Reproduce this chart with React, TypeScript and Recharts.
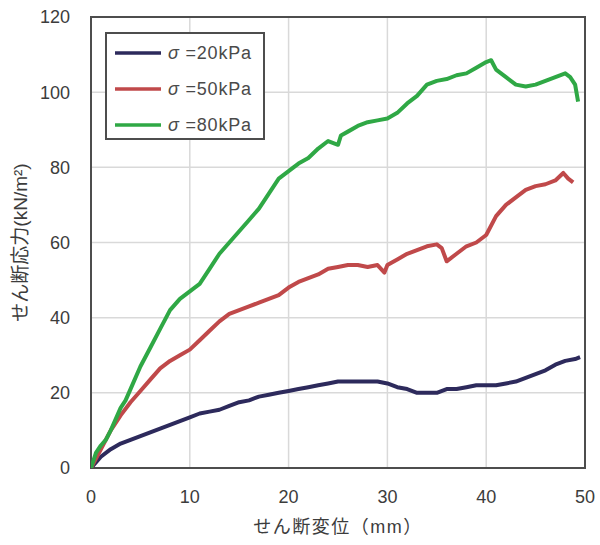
import React from 'react';
import { LineChart, Line, XAxis, YAxis, CartesianGrid, Legend, ReferenceArea } from 'recharts';

// shear displacement (mm) / shear stress (kN/m2)
const disp20 = [0, 1, 2, 3, 4, 5, 6, 7, 8, 9, 10, 11, 12, 13, 14, 15, 16, 17, 18, 19, 20, 21, 22, 23, 24, 25, 26, 27, 28, 29, 30, 31, 32, 33, 34, 35, 36, 37, 38, 39, 40, 41, 42, 43, 44, 45, 46, 47, 48, 49, 49.5];
const stress20 = [0, 3, 5, 6.5, 7.5, 8.5, 9.5, 10.5, 11.5, 12.5, 13.5, 14.5, 15, 15.5, 16.5, 17.5, 18, 19, 19.5, 20, 20.5, 21, 21.5, 22, 22.5, 23, 23, 23, 23, 23, 22.5, 21.5, 21, 20, 20, 20, 21, 21, 21.5, 22, 22, 22, 22.5, 23, 24, 25, 26, 27.5, 28.5, 29, 29.5];

const disp50 = [0, 1, 2, 3, 4, 5, 6, 7, 8, 9, 10, 11, 12, 13, 14, 15, 16, 17, 18, 19, 20, 21, 22, 23, 24, 25, 26, 27, 28, 29, 29.7, 30, 31, 32, 33, 34, 35, 35.5, 36, 37, 38, 39, 40, 41, 42, 43, 44, 45, 46, 47, 47.8, 48.3, 48.8];
const stress50 = [0, 5, 10, 14, 17.5, 20.5, 23.5, 26.5, 28.5, 30, 31.5, 34, 36.5, 39, 41, 42, 43, 44, 45, 46, 48, 49.5, 50.5, 51.5, 53, 53.5, 54, 54, 53.5, 54, 52, 54, 55.5, 57, 58, 59, 59.5, 58.5, 55, 57, 59, 60, 62, 67, 70, 72, 74, 75, 75.5, 76.5, 78.5, 77, 76];

const disp80 = [0, 0.5, 1, 1.5, 2, 2.5, 3, 3.5, 4, 5, 6, 7, 8, 9, 10, 11, 12, 13, 14, 15, 16, 17, 18, 19, 20, 21, 22, 23, 24, 25, 25.3, 26, 27, 28, 29, 30, 31, 32, 33, 34, 35, 36, 37, 38, 39, 40, 40.5, 41, 42, 43, 44, 45, 46, 47, 48, 48.5, 49, 49.3];
const stress80 = [0, 4, 6, 7.5, 10, 13, 16, 18, 21, 27, 32, 37, 42, 45, 47, 49, 53, 57, 60, 63, 66, 69, 73, 77, 79, 81, 82.5, 85, 87, 86, 88.5, 89.5, 91, 92, 92.5, 93, 94.5, 97, 99, 102, 103, 103.5, 104.5, 105, 106.5, 108, 108.5, 106, 104, 102, 101.5, 102, 103, 104, 105, 104, 102, 97.5];

const xTicks = [0, 10, 20, 30, 40, 50];
const yTicks = [0, 20, 40, 60, 80, 100, 120];

const toPoints = (xs: number[], ys: number[]) => xs.map((x, i) => ({ x, y: ys[i] }));

const SERIES = [
  { label: '=20kPa', color: '#2d2a5c', data: toPoints(disp20, stress20) },
  { label: '=50kPa', color: '#c0494a', data: toPoints(disp50, stress50) },
  { label: '=80kPa', color: '#2fa845', data: toPoints(disp80, stress80) },
];

const FONT = "'Liberation Sans', 'Noto Sans CJK JP', sans-serif";
const TEXT = '#3c3c3c';

const renderLegend = () => (
  <div style={{ width: 160, height: 108, border: '2px solid #4d4d4d', background: '#fff', boxSizing: 'border-box', paddingTop: 1 }}>
    {SERIES.map((s) => (
      <div key={s.label} style={{ display: 'flex', alignItems: 'center', height: 36 }}>
        <svg width={46} height={4} style={{ marginLeft: 8 }}>
          <line x1={0} y1={2} x2={46} y2={2} stroke={s.color} strokeWidth={3.5} />
        </svg>
        <span style={{ marginLeft: 7, fontSize: 18, color: '#4a4a4a', fontFamily: FONT, letterSpacing: 0.8, whiteSpace: 'nowrap' }}>
          <i>σ</i> {s.label}
        </span>
      </div>
    ))}
  </div>
);

export default function App() {
  return (
    <div style={{ position: 'absolute', left: 0, top: 0, background: '#fff' }}>
      <LineChart width={600} height={545} margin={{ top: 17, right: 15, bottom: 0, left: 0 }}>
        <CartesianGrid stroke="#d9d9d9" strokeWidth={1.5} />
        <XAxis
          type="number"
          dataKey="x"
          domain={[0, 50]}
          ticks={xTicks}
          allowDataOverflow
          height={77}
          axisLine={false}
          tickLine={false}
          tickSize={0}
          tickMargin={22}
          tick={{ fill: TEXT, fontSize: 18, fontFamily: FONT }}
          label={{ value: 'せん断変位（mm）', position: 'insideBottom', offset: 12, fill: TEXT, fontSize: 18, fontFamily: FONT, letterSpacing: 1.5 }}
        />
        <YAxis
          type="number"
          domain={[0, 120]}
          ticks={yTicks}
          allowDataOverflow
          width={91}
          axisLine={false}
          tickLine={false}
          tickSize={0}
          tickMargin={21}
          tick={{ fill: TEXT, fontSize: 18, fontFamily: FONT }}
          label={{ value: 'せん断応力(kN/m²)', angle: -90, position: 'center', dx: -25, fill: TEXT, fontSize: 19, fontFamily: FONT }}
        />
        <ReferenceArea x1={0} x2={50} y1={0} y2={120} fill="none" fillOpacity={0} stroke="#4d4d4d" strokeWidth={2} />
        {SERIES.map((s) => (
          <Line
            key={s.label}
            data={s.data}
            dataKey="y"
            type="linear"
            stroke={s.color}
            strokeWidth={4}
            strokeLinejoin="round"
            dot={false}
            isAnimationActive={false}
          />
        ))}
        <Legend content={renderLegend} layout="vertical" verticalAlign="middle" align="center" wrapperStyle={{ top: 32, left: 105, width: 160 }} />
      </LineChart>
    </div>
  );
}
